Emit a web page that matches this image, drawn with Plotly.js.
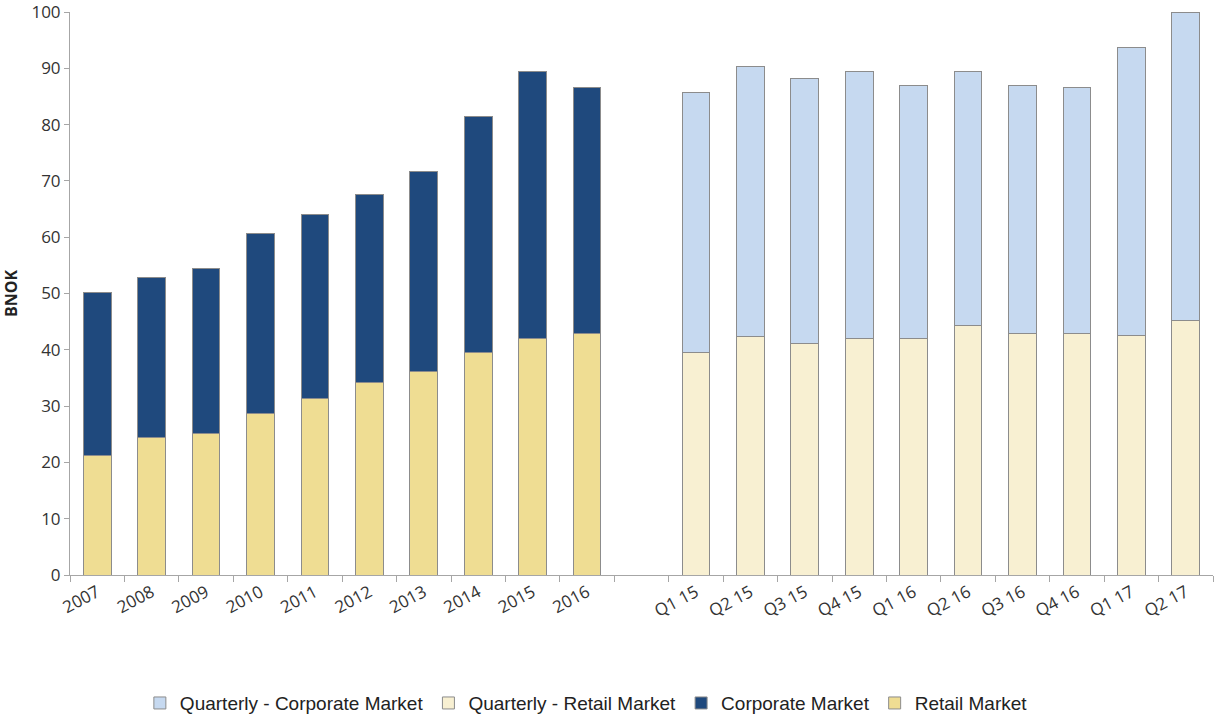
<!DOCTYPE html>
<html>
<head>
<meta charset="utf-8">
<script src="https://cdn.plot.ly/plotly-3.0.1.min.js"></script>
<style>html,body{margin:0;padding:0;background:#fff;}#chart{width:1214px;height:716px;}</style>
</head>
<body>
<div id="chart"></div>
<script>
const years = ["2007","2008","2009","2010","2011","2012","2013","2014","2015","2016"];
const retailAnnual = [21.3, 24.4, 25.2, 28.6, 31.4, 34.2, 36.1, 39.5, 42.0, 42.9];
const totalAnnual  = [50.2, 52.9, 54.4, 60.7, 64.0, 67.5, 71.7, 81.5, 89.4, 86.6];
const corporateAnnual = totalAnnual.map((t, i) => +(t - retailAnnual[i]).toFixed(1));

const quarters = ["Q1 15","Q2 15","Q3 15","Q4 15","Q1 16","Q2 16","Q3 16","Q4 16","Q1 17","Q2 17"];
const retailQuarterly = [39.6, 42.4, 41.1, 42.0, 42.0, 44.4, 42.9, 42.9, 42.5, 45.2];
const totalQuarterly  = [85.7, 90.3, 88.2, 89.4, 86.9, 89.4, 86.9, 86.6, 93.7, 100.0];
const corporateQuarterly = totalQuarterly.map((t, i) => +(t - retailQuarterly[i]).toFixed(1));

const yTicks = [0, 10, 20, 30, 40, 50, 60, 70, 80, 90, 100];
const gapLabel = " ";
const categories = years.concat([gapLabel], quarters);

const outline = {color: "#8c8c8c", width: 1};
const data = [
  {type: "bar", name: "Retail Market", x: years, y: retailAnnual,
   marker: {color: "#efdd93", line: outline}, legendrank: 4},
  {type: "bar", name: "Corporate Market", x: years, y: corporateAnnual,
   marker: {color: "#1f497d", line: outline}, legendrank: 3},
  {type: "bar", name: "Quarterly - Retail Market", x: quarters, y: retailQuarterly,
   marker: {color: "#f8f0d2", line: outline}, legendrank: 2},
  {type: "bar", name: "Quarterly - Corporate Market", x: quarters, y: corporateQuarterly,
   marker: {color: "#c6d9f0", line: outline}, legendrank: 1}
];

const layout = {
  width: 1214, height: 716,
  margin: {l: 70, r: 1, t: 12, b: 141, autoexpand: false},
  paper_bgcolor: "#fff", plot_bgcolor: "#fff",
  barmode: "stack", bargap: 0.49,
  showlegend: true,
  legend: {orientation: "h", xref: "container", yref: "container",
           x: 0.483, xanchor: "center", y: 0.018, yanchor: "middle",
           font: {family: "Liberation Sans, Arial, sans-serif", size: 19, color: "#222"},
           itemwidth: 30, traceorder: "normal", itemclick: false},
  font: {family: "Open Sans, sans-serif", color: "#333"},
  xaxis: {
    type: "category", categoryorder: "array", categoryarray: categories,
    range: [-0.5, categories.length - 0.5], automargin: false,
    tickson: "boundaries", ticks: "outside", ticklen: 6, tickcolor: "#a6a6a6",
    showline: true, linecolor: "#a6a6a6", linewidth: 1,
    showgrid: false, zeroline: false,
    tickangle: -28, tickfont: {size: 17, color: "#333"}
  },
  yaxis: {
    range: [0, 100], tickmode: "array", tickvals: yTicks, automargin: false,
    ticklabeloverflow: "allow",
    ticks: "outside", ticklen: 5, tickcolor: "#a6a6a6",
    showline: true, linecolor: "#a6a6a6", linewidth: 1,
    showgrid: false, zeroline: false,
    tickfont: {size: 17, color: "#333"},
    title: {text: "<b>BNOK</b>", font: {size: 16, color: "#222"}, standoff: 14}
  }
};
Plotly.newPlot("chart", data, layout, {displayModeBar: false, staticPlot: true});
</script>
</body>
</html>
